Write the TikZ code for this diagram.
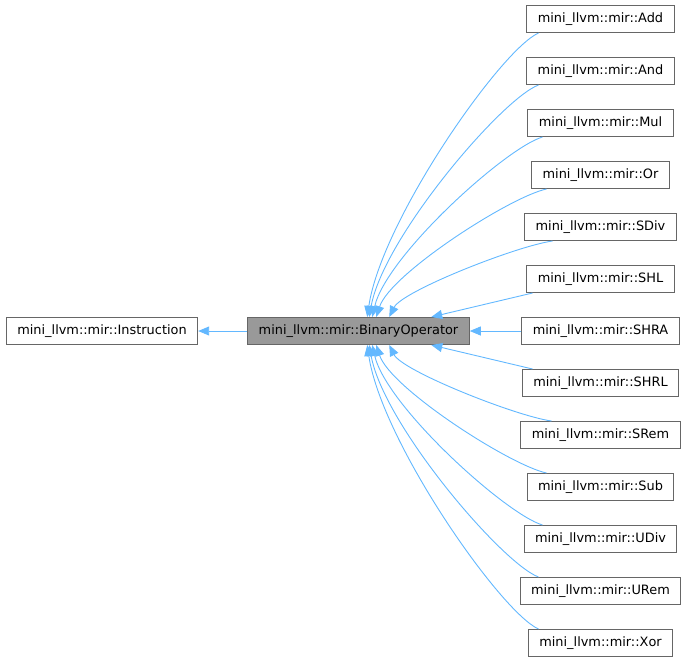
\documentclass[tikz,border=0pt]{standalone}
\usepackage{fontspec}
\setmainfont{DejaVu Sans}
\usetikzlibrary{arrows.meta,calc}
\definecolor{edgeblue}{HTML}{63B8FF}
\definecolor{boxgray}{HTML}{666666}
\definecolor{fillgray}{HTML}{999999}
\tikzset{
  cls/.style={draw=boxgray, line width=1pt, fill=white, inner xsep=11pt, inner ysep=0pt,
    minimum height=27pt, text height=9.5pt, text depth=2.5pt, font=\fontsize{12.9}{14}\selectfont, anchor=center},
  base/.style={cls, fill=fillgray},
  edge/.style={draw=edgeblue, line width=0.9pt, -{Triangle[length=11pt,width=9pt]}, shorten >=0pt},
}
\begin{document}
\begin{tikzpicture}[x=1pt,y=-1pt]
\useasboundingbox (0,0) rectangle (688,662);
\node[cls] (instr) at (102,331) {mini\_llvm::mir::Instruction};
\node[base] (bin) at (358.5,331) {mini\_llvm::mir::BinaryOperator};
\node[cls] (add)  at (600.5,19)  {mini\_llvm::mir::Add};
\node[cls] (and)  at (600.5,71)  {mini\_llvm::mir::And};
\node[cls] (mul)  at (600.5,123) {mini\_llvm::mir::Mul};
\node[cls] (or)   at (600.5,175) {mini\_llvm::mir::Or};
\node[cls] (sdiv) at (600.5,227) {mini\_llvm::mir::SDiv};
\node[cls] (shl)  at (600.5,279) {mini\_llvm::mir::SHL};
\node[cls] (shra) at (600.5,331) {mini\_llvm::mir::SHRA};
\node[cls] (shrl) at (600.5,383) {mini\_llvm::mir::SHRL};
\node[cls] (srem) at (600.5,435) {mini\_llvm::mir::SRem};
\node[cls] (sub)  at (600.5,487) {mini\_llvm::mir::Sub};
\node[cls] (udiv) at (600.5,539) {mini\_llvm::mir::UDiv};
\node[cls] (urem) at (600.5,591) {mini\_llvm::mir::URem};
\node[cls] (xor)  at (600.5,643) {mini\_llvm::mir::Xor};

\draw[edge] (bin.west) -- (instr.east);
\draw[edge] (shra.west) -- (bin.east);
% upper children
\draw[edge] ($(add.south)+(-62,0)$) .. controls +(-38,17) and +(14,-96) .. ($(bin.north west)+(120,0)$);
\draw[edge] ($(and.south)+(-62,0)$) .. controls +(-37,14) and +(14,-79) .. ($(bin.north west)+(122,0)$);
\draw[edge] ($(mul.south)+(-58,0)$) .. controls +(-37,11) and +(14,-61) .. ($(bin.north west)+(125,0)$);
\draw[edge] ($(or.south)+(-54,0)$) .. controls +(-37,8) and +(14,-43) .. ($(bin.north west)+(129,0)$);
\draw[edge] ($(sdiv.south)+(-48,0)$) .. controls +(-36,5) and +(13,-26) .. ($(bin.north west)+(142,0)$);
\draw[edge] ($(shl.south)+(-68,0)$) -- ($(bin.north west)+(184,0)$);
% lower children
\draw[edge] ($(shrl.north)+(-68,0)$) -- ($(bin.south west)+(184,0)$);
\draw[edge] ($(srem.north)+(-49,0)$) .. controls +(-36,-5) and +(13,26) .. ($(bin.south west)+(142,0)$);
\draw[edge] ($(sub.north)+(-54,0)$) .. controls +(-37,-8) and +(14,43) .. ($(bin.south west)+(129,0)$);
\draw[edge] ($(udiv.north)+(-58,0)$) .. controls +(-37,-11) and +(14,61) .. ($(bin.south west)+(125,0)$);
\draw[edge] ($(urem.north)+(-62,0)$) .. controls +(-37,-14) and +(14,79) .. ($(bin.south west)+(122,0)$);
\draw[edge] ($(xor.north)+(-62,0)$) .. controls +(-38,-17) and +(14,96) .. ($(bin.south west)+(120,0)$);
\end{tikzpicture}
\end{document}
